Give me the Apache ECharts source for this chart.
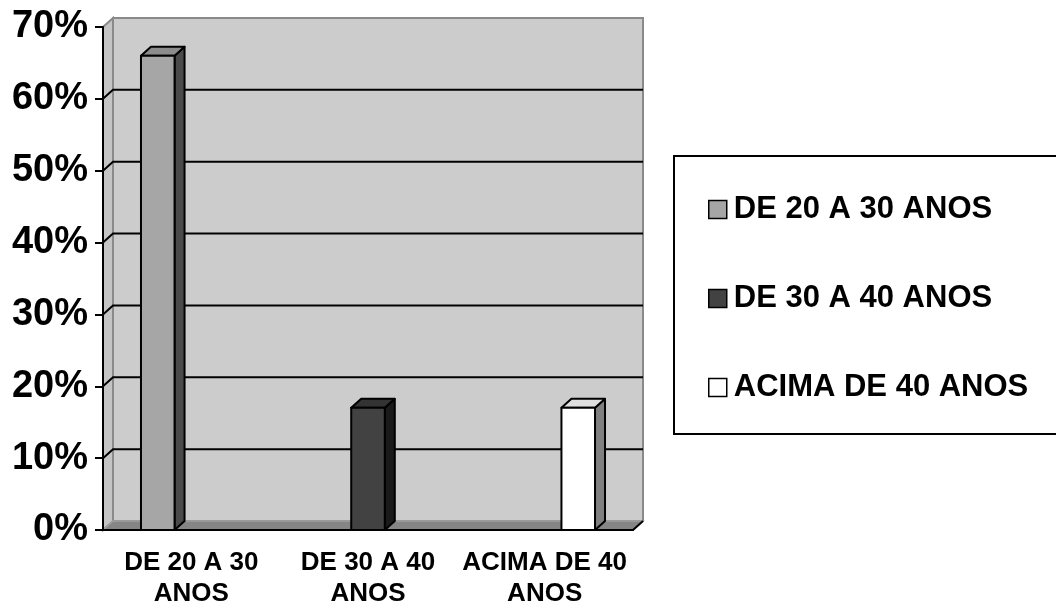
<!DOCTYPE html>
<html>
<head>
<meta charset="utf-8">
<script src="https://cdn.jsdelivr.net/npm/echarts@6/dist/echarts.min.js"></script>
<style>
  html, body { margin: 0; padding: 0; background: #fff; }
  #chart { width: 1056px; height: 610px; }
</style>
</head>
<body>
<div id="chart"></div>
<script>
// dados do grafico
var categorias = ['DE 20 A 30\nANOS', 'DE 30 A 40\nANOS', 'ACIMA DE 40\nANOS'];
var nomesSeries = ['DE 20 A 30 ANOS', 'DE 30 A 40 ANOS', 'ACIMA DE 40 ANOS'];
var faixa20a30 = [66, 0, 0];
var faixa30a40 = [0, 17, 0];
var acima40 = [0, 0, 17];
var ticksY = [0, 10, 20, 30, 40, 50, 60, 70];

// efeito 3D (profundidade)
var DX = 10, DY = -9;
var BAR_RATIO = 0.19;
var FONTE = 'Liberation Sans, Arial, sans-serif';

// cores: frente, topo, lado
var cores = [
    ['#a6a6a6', '#8c8c8c', '#4a4a4a'],
    ['#424242', '#333333', '#1a1a1a'],
    ['#ffffff', '#e0e0e0', '#808080']
];

var chart = echarts.init(document.getElementById('chart'));

var toData = function (arr) {
    var out = [];
    for (var i = 0; i < arr.length; i++) {
        out.push([i, arr[i]]);
    }
    return out;
};

//*********************************************************************
// paredes, piso e linhas de grade em perspectiva
//*********************************************************************
var renderMoldura = function (params, api) {
    var cs = params.coordSys;
    var L = cs.x, R = cs.x + cs.width;
    var y0 = api.coord([0, ticksY[0]])[1];
    var yTop = api.coord([0, ticksY[ticksY.length - 1]])[1];
    var children = [];
    // parede do fundo
    children.push({
        type: 'rect',
        shape: { x: L + DX, y: yTop + DY, width: R - L, height: y0 - yTop },
        style: { fill: '#cccccc', stroke: '#8a8a8a', lineWidth: 2 }
    });
    // parede esquerda
    children.push({
        type: 'polygon',
        shape: { points: [[L, y0], [L, yTop], [L + DX, yTop + DY], [L + DX, y0 + DY]] },
        style: { fill: '#c4c4c4', stroke: '#8a8a8a', lineWidth: 2 }
    });
    // linhas de grade
    for (var i = 1; i < ticksY.length - 1; i++) {
        var yt = api.coord([0, ticksY[i]])[1];
        children.push({
            type: 'polyline',
            shape: { points: [[L, yt], [L + DX, yt + DY], [R + DX, yt + DY]] },
            style: { fill: null, stroke: '#000', lineWidth: 2 }
        });
    }
    // piso
    children.push({
        type: 'polygon',
        shape: { points: [[L, y0], [R, y0], [R + DX, y0 + DY], [L + DX, y0 + DY]] },
        style: { fill: '#858585', stroke: '#a0a0a0', lineWidth: 1.5 }
    });
    children.push({
        type: 'polyline',
        shape: { points: [[L, y0], [R, y0], [R + DX, y0 + DY]] },
        style: { fill: null, stroke: '#000', lineWidth: 2 }
    });
    return { type: 'group', children: children };
};

//*********************************************************************
// barra 3D: frente, topo e lateral
//*********************************************************************
var makeRenderBarra = function (idx) {
    return function (params, api) {
        var v = api.value(1);
        if (!v) {
            return;
        }
        var cat = api.value(0);
        var base = api.coord([cat, 0]);
        var top = api.coord([cat, v]);
        var w = api.size([1, 0])[0] * BAR_RATIO;
        var cx = base[0] + (idx - 1) * w;
        var x0 = cx - w / 2, x1 = cx + w / 2;
        var y0 = base[1], y1 = top[1];
        var c = cores[idx];
        var borda = { stroke: '#000', lineWidth: 2, lineJoin: 'round' };
        return {
            type: 'group',
            children: [{
                type: 'polygon',
                shape: { points: [[x1, y1], [x1 + DX, y1 + DY], [x1 + DX, y0 + DY], [x1, y0]] },
                style: echarts.util.extend({ fill: c[2] }, borda)
            }, {
                type: 'polygon',
                shape: { points: [[x0, y1], [x1, y1], [x1 + DX, y1 + DY], [x0 + DX, y1 + DY]] },
                style: echarts.util.extend({ fill: c[1] }, borda)
            }, {
                type: 'rect',
                shape: { x: x0, y: y1, width: w, height: y0 - y1 },
                style: echarts.util.extend({ fill: c[0] }, borda)
            }]
        };
    };
};

var serieBarra = function (idx, valores) {
    return {
        name: nomesSeries[idx],
        type: 'custom',
        z: 3,
        renderItem: makeRenderBarra(idx),
        itemStyle: { color: cores[idx][0], borderColor: '#000', borderWidth: 1.5 },
        encode: { x: 0, y: 1 },
        data: toData(valores)
    };
};

var option = {
    animation: false,
    backgroundColor: '#ffffff',
    graphic: [{
        type: 'rect',
        left: 673,
        top: 155,
        shape: { width: 400, height: 278 },
        style: { fill: '#fff', stroke: '#000', lineWidth: 2 },
        z: 0
    }],
    legend: {
        orient: 'vertical',
        left: 703,
        top: 189,
        itemWidth: 18,
        itemHeight: 18,
        itemGap: 58,
        icon: 'rect',
        data: nomesSeries,
        selectedMode: false,
        itemStyle: { borderColor: '#000', borderWidth: 1.5 },
        textStyle: {
            fontFamily: FONTE,
            fontWeight: 'bold',
            fontSize: 31,
            lineHeight: 31,
            color: '#000',
            padding: [0, 0, 0, 2]
        }
    },
    grid: {
        left: 103,
        right: 423,
        top: 27,
        bottom: 80,
        containLabel: false
    },
    xAxis: {
        type: 'category',
        data: categorias,
        z: 10,
        axisLine: { lineStyle: { color: '#000', width: 2 } },
        axisTick: { length: 10, lineStyle: { color: '#000', width: 2 } },
        axisLabel: {
            interval: 0,
            margin: 17,
            fontFamily: FONTE,
            fontWeight: 'bold',
            fontSize: 26,
            lineHeight: 31,
            color: '#000'
        },
        splitLine: { show: false }
    },
    yAxis: {
        type: 'value',
        min: 0,
        max: 70,
        interval: 10,
        z: 10,
        axisLine: { show: true, lineStyle: { color: '#000', width: 2 } },
        axisTick: { show: true, length: 8, lineStyle: { color: '#000', width: 2 } },
        axisLabel: {
            formatter: '{value}%',
            margin: 15,
            fontFamily: FONTE,
            fontWeight: 'bold',
            fontSize: 38,
            color: '#000'
        },
        splitLine: { show: false }
    },
    series: [{
        type: 'custom',
        z: 1,
        silent: true,
        renderItem: renderMoldura,
        encode: { x: 0, y: 1 },
        data: [[0, 0]]
    },
        serieBarra(0, faixa20a30),
        serieBarra(1, faixa30a40),
        serieBarra(2, acima40)
    ]
};

chart.setOption(option);
window.addEventListener('resize', function () {
    chart.resize();
});
</script>
</body>
</html>
